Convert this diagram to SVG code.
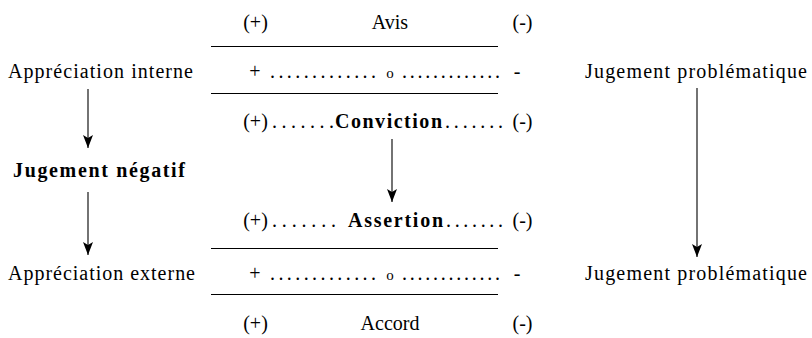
<svg xmlns="http://www.w3.org/2000/svg" width="812" height="338" viewBox="0 0 812 338">
<style>
text{font-family:'Liberation Serif','Times New Roman',serif;font-size:20px;fill:#000}
.b{font-weight:700}
.m{text-anchor:middle}
.rule{stroke:#000;stroke-width:1.1;fill:none}
.arr{stroke:#000;stroke-width:1.1;fill:none;marker-end:url(#ah)}
.o{font-size:15px}
</style>
<defs>
<marker id="ah" viewBox="0 -5 13 10" refX="13" refY="0" markerWidth="13" markerHeight="10" markerUnits="userSpaceOnUse" orient="auto">
<path d="M0,-5 L13,0 L0,5 L3,0 Z" fill="#000"/>
</marker>
</defs>

<g id="avis">
<text class="m" x="255.5" y="29">(+)</text>
<text class="m" x="390" y="29">Avis</text>
<text class="m" x="522.5" y="29">(-)</text>
</g>
<g id="echelle-haut">
<line class="rule" x1="211" y1="46.5" x2="498" y2="46.5"/>
<text class="m" x="255" y="78">+</text>
<text x="270" y="78" textLength="106">.............</text>
<text class="m o" x="390" y="78">o</text>
<text x="402" y="78" textLength="98">.............</text>
<text class="m" x="517" y="78">-</text>
<line class="rule" x1="211" y1="93.5" x2="498" y2="93.5"/>
</g>
<g id="appreciation-interne">
<text x="8" y="78" textLength="185">Appréciation interne</text>
</g>
<g id="jugement-problematique-haut">
<text x="585" y="78" textLength="222">Jugement problématique</text>
</g>
<g id="conviction">
<text class="m" x="255.5" y="128">(+)</text>
<text x="272" y="128" textLength="62">.......</text>
<text class="b" x="335" y="128" textLength="107">Conviction</text>
<text x="445" y="128" textLength="58">.......</text>
<text class="m" x="522.5" y="128">(-)</text>
</g>
<g id="jugement-negatif">
<text class="b" x="13" y="177" textLength="172">Jugement négatif</text>
</g>
<g id="assertion">
<text class="m" x="255.5" y="227">(+)</text>
<text x="272" y="227" textLength="64">.......</text>
<text class="b" x="348" y="227" textLength="95">Assertion</text>
<text x="446" y="227" textLength="57">.......</text>
<text class="m" x="522.5" y="227">(-)</text>
</g>
<g id="echelle-bas">
<line class="rule" x1="211" y1="248.5" x2="498" y2="248.5"/>
<text class="m" x="255" y="280">+</text>
<text x="270" y="280" textLength="106">.............</text>
<text class="m o" x="390" y="280">o</text>
<text x="402" y="280" textLength="98">.............</text>
<text class="m" x="517" y="280">-</text>
<line class="rule" x1="211" y1="294.5" x2="498" y2="294.5"/>
</g>
<g id="appreciation-externe">
<text x="8" y="280" textLength="187">Appréciation externe</text>
</g>
<g id="jugement-problematique-bas">
<text x="585" y="280" textLength="222">Jugement problématique</text>
</g>
<g id="accord">
<text class="m" x="255.5" y="330">(+)</text>
<text class="m" x="390" y="330">Accord</text>
<text class="m" x="522.5" y="330">(-)</text>
</g>

<g id="connectors">
<line class="arr" x1="88" y1="89" x2="88" y2="148"/>
<line class="arr" x1="88" y1="192" x2="88" y2="255"/>
<line class="arr" x1="392" y1="139" x2="392" y2="202"/>
<line class="arr" x1="697" y1="88" x2="697" y2="257"/>
</g>
</svg>
